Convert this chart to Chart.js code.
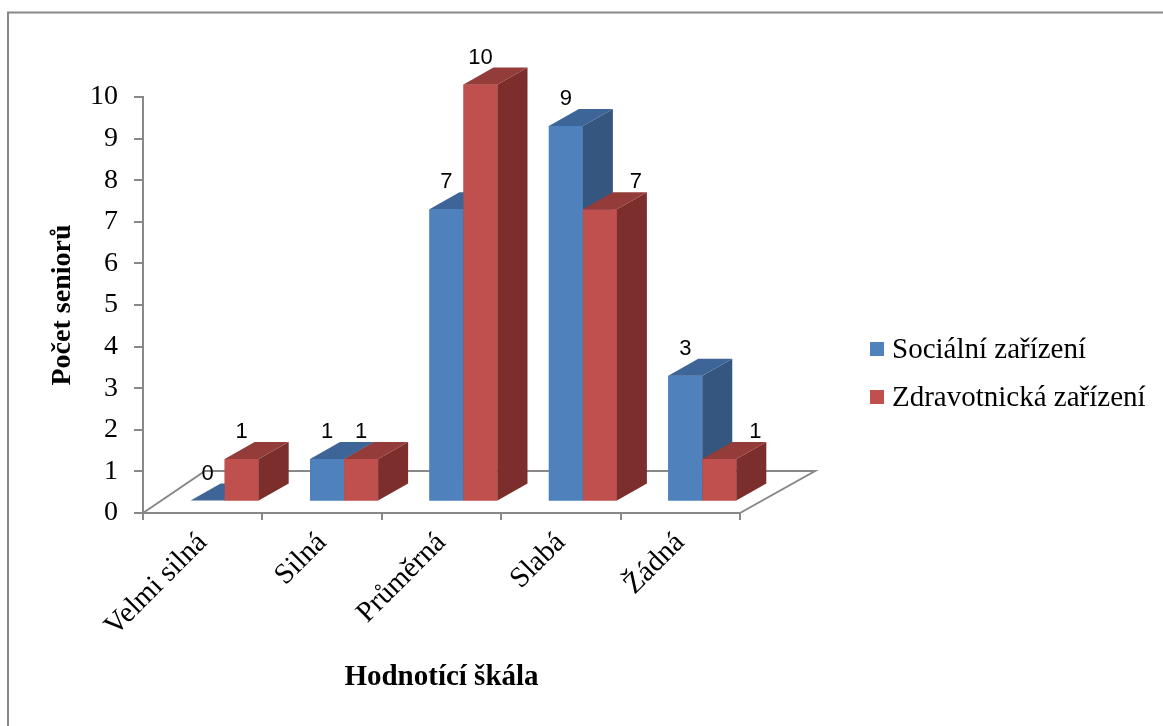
<!DOCTYPE html>
<html lang="cs">
<head>
<meta charset="utf-8">
<title>Počet seniorů</title>
<script src="https://cdn.jsdelivr.net/npm/chart.js@4.4.1/dist/chart.umd.min.js"></script>
<style>
  html, body { margin: 0; padding: 0; background: #fff; }
  canvas { display: block; }
</style>
</head>
<body>
<canvas id="chart" width="1163" height="726"></canvas>
<script>
// data
const categories = ['Velmi silná', 'Silná', 'Průměrná', 'Slabá', 'Žádná'];
const socialni = [0, 1, 7, 9, 3];
const zdravotnicka = [1, 1, 10, 7, 1];
const seriesNames = ['Sociální zařízení', 'Zdravotnická zařízení'];
const yMin = 0;
const yMax = 10;

const AXIS_GRAY = '#888888';
const SERIF = "'Liberation Serif', 'Times New Roman', serif";
const SANS = "'Liberation Sans', Arial, sans-serif";

// fake 3D: bars stand half way into the floor
const DEPTH = { dx: 30, dy: -17 };
const FLOOR = { dxLeft: 62, dxRight: 75, dy: -42 };
const SHIFT_X = 0.184;  // in categories
const SHIFT_Y = 0.3;    // in values

const toPoints = (values) => values.map((v, i) => ({ x: i, y: v }));

const pageFrame = {
  id: 'pageFrame',
  beforeDraw(chart) {
    const ctx = chart.ctx;
    ctx.save();
    ctx.fillStyle = '#fff';
    ctx.fillRect(0, 0, chart.width, chart.height);
    ctx.strokeStyle = AXIS_GRAY;
    ctx.lineWidth = 2;
    ctx.beginPath();
    ctx.moveTo(8, chart.height);
    ctx.lineTo(8, 12.5);
    ctx.lineTo(chart.width, 12.5);
    ctx.stroke();
    ctx.restore();
  }
};

const floor = {
  id: 'floor',
  beforeDatasetsDraw(chart) {
    const { ctx } = chart;
    const xs = chart.scales.x;
    const y0 = chart.scales.y.getPixelForValue(0);
    ctx.save();
    ctx.strokeStyle = AXIS_GRAY;
    ctx.lineWidth = 2;
    ctx.beginPath();
    ctx.moveTo(xs.left, y0);
    ctx.lineTo(xs.left + FLOOR.dxLeft, y0 + FLOOR.dy);
    ctx.lineTo(xs.right + FLOOR.dxRight, y0 + FLOOR.dy);
    ctx.lineTo(xs.right, y0);
    ctx.stroke();
    ctx.restore();
  }
};

// Chart.js paints the last dataset first; repaint front to back here,
// first series first, each followed by its side and top faces
const bars3d = {
  id: 'bars3d',
  afterDatasetsDraw(chart) {
    const ctx = chart.ctx;
    chart.data.datasets.forEach((ds, di) => {
      const meta = chart.getDatasetMeta(di);
      meta.controller.draw();
      ctx.save();
      meta.data.forEach((bar) => {
        const { x, y, base, width } = bar.getProps(['x', 'y', 'base', 'width'], true);
        const l = x - width / 2, r = x + width / 2;
        ctx.fillStyle = ds.sideColor;
        ctx.beginPath();
        ctx.moveTo(r, y);
        ctx.lineTo(r + DEPTH.dx, y + DEPTH.dy);
        ctx.lineTo(r + DEPTH.dx, base + DEPTH.dy);
        ctx.lineTo(r, base);
        ctx.closePath();
        ctx.fill();
        ctx.fillStyle = ds.topColor;
        ctx.beginPath();
        ctx.moveTo(l, y);
        ctx.lineTo(l + DEPTH.dx, y + DEPTH.dy);
        ctx.lineTo(r + DEPTH.dx, y + DEPTH.dy);
        ctx.lineTo(r, y);
        ctx.closePath();
        ctx.fill();
      });
      ctx.restore();
    });
  }
};

const valueLabels = {
  id: 'valueLabels',
  afterDatasetsDraw(chart) {
    const ctx = chart.ctx;
    ctx.save();
    ctx.font = '22px ' + SANS;
    ctx.fillStyle = '#000';
    ctx.textAlign = 'center';
    ctx.textBaseline = 'middle';
    chart.data.datasets.forEach((ds, di) => {
      const meta = chart.getDatasetMeta(di);
      meta.data.forEach((bar, i) => {
        const v = ds.data[i].y;
        let x = bar.x;
        // label slides right when the blue bar beside it is taller
        if (di === 1 && chart.data.datasets[0].data[i].y > v) x += DEPTH.dx + 6;
        ctx.fillText(String(v), x, bar.y + DEPTH.dy - 10);
      });
    });
    ctx.restore();
  }
};

const sideLegend = {
  id: 'sideLegend',
  afterDraw(chart) {
    const ctx = chart.ctx;
    ctx.save();
    ctx.font = '29px ' + SERIF;
    ctx.textBaseline = 'middle';
    ctx.textAlign = 'left';
    chart.data.datasets.forEach((ds, i) => {
      const cy = 349 + i * 48;
      ctx.fillStyle = ds.backgroundColor;
      ctx.fillRect(870, cy - 7, 14, 14);
      ctx.fillStyle = '#000';
      ctx.fillText(ds.label, 892, cy + 1);
    });
    ctx.restore();
  }
};

const ctx = document.getElementById('chart').getContext('2d');

new Chart(ctx, {
  type: 'bar',
  data: {
    labels: categories,
    datasets: [
      {
        label: seriesNames[0],
        data: toPoints(socialni),
        backgroundColor: '#4F81BD',
        topColor: '#3D6597',
        sideColor: '#34567F',
        xAxisID: 'xBars',
        yAxisID: 'yBars',
        clip: false
      },
      {
        label: seriesNames[1],
        data: toPoints(zdravotnicka),
        backgroundColor: '#C0504D',
        topColor: '#943C3A',
        sideColor: '#7B2E2C',
        xAxisID: 'xBars',
        yAxisID: 'yBars',
        clip: false
      }
    ]
  },
  options: {
    responsive: false,
    animation: false,
    categoryPercentage: 0.57,
    barPercentage: 1,
    layout: { padding: { left: 40, top: 97, right: 423, bottom: 31 } },
    plugins: {
      legend: { display: false },
      tooltip: { enabled: false }
    },
    scales: {
      x: {
        type: 'category',
        position: 'bottom',
        offset: true,
        grid: { offset: true, drawOnChartArea: false, color: AXIS_GRAY, lineWidth: 2, tickLength: 7 },
        border: { color: AXIS_GRAY, width: 2 },
        ticks: {
          autoSkip: false,
          minRotation: 45,
          maxRotation: 45,
          padding: 6,
          color: '#000',
          font: { family: SERIF, size: 29 }
        },
        title: {
          display: true,
          text: 'Hodnotící škála',
          color: '#000',
          font: { family: SERIF, size: 29, weight: 'bold' },
          padding: { top: 0, bottom: 0 }
        },
        afterFit: (s) => { s.height = 182; }
      },
      y: {
        type: 'linear',
        position: 'left',
        min: yMin,
        max: yMax,
        grid: { drawOnChartArea: false, color: AXIS_GRAY, lineWidth: 2, tickLength: 9 },
        border: { color: AXIS_GRAY, width: 2 },
        ticks: {
          stepSize: 1,
          padding: 16,
          color: '#000',
          font: { family: SERIF, size: 28 }
        },
        title: {
          display: true,
          text: 'Počet seniorů',
          color: '#000',
          font: { family: SERIF, size: 28, weight: 'bold' },
          padding: { top: 6, bottom: 0 }
        },
        afterFit: (s) => { s.width = 103; }
      },
      xBars: {
        type: 'linear',
        display: false,
        offset: false,
        min: -0.5 - SHIFT_X,
        max: categories.length - 0.5 - SHIFT_X,
        afterBuildTicks: (s) => { s.ticks = categories.map((c, i) => ({ value: i })); }
      },
      yBars: {
        type: 'linear',
        display: false,
        min: yMin - SHIFT_Y,
        max: yMax - SHIFT_Y
      }
    }
  },
  plugins: [pageFrame, floor, bars3d, valueLabels, sideLegend]
});
</script>
</body>
</html>
